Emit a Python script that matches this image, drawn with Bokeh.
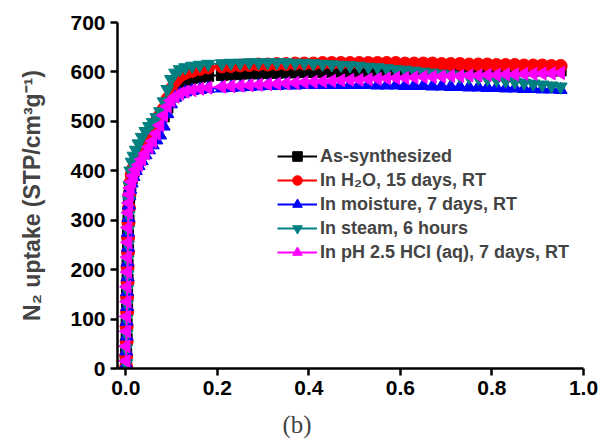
import numpy as np
from bokeh.plotting import figure
from bokeh.models import (Range1d, FixedTicker, NumeralTickFormatter, Legend, LegendItem, Title,
                          ColumnDataSource)
from bokeh.embed import file_html
from bokeh.resources import INLINE

# relative pressure P/P0 (shared by all isotherms)
pressure = [0.001, 0.001, 0.002, 0.002, 0.003, 0.003, 0.004, 0.004, 0.005, 0.005, 0.006, 0.007, 0.008,
            0.010, 0.013, 0.017, 0.022, 0.028, 0.035, 0.043, 0.051, 0.059, 0.067, 0.075, 0.083, 0.091,
            0.099, 0.108, 0.118, 0.130, 0.145, 0.162, 0.180,
            0.21, 0.23, 0.25, 0.27, 0.29, 0.31, 0.33, 0.35, 0.37, 0.39, 0.41, 0.43, 0.45, 0.47, 0.49,
            0.51, 0.53, 0.55, 0.57, 0.59, 0.61, 0.63, 0.65, 0.67, 0.69, 0.71, 0.73, 0.75, 0.77, 0.79,
            0.81, 0.83, 0.85, 0.87, 0.89, 0.91, 0.93, 0.95]

as_synth = [5, 30, 60, 90, 120, 150, 180, 210, 240, 270, 300, 330, 350,
            370, 385, 398, 410, 422, 435, 448, 460, 472, 485, 497, 510, 528, 550, 568, 578, 584, 588, 590, 592,
            594, 595, 596, 597, 597, 598, 598, 599, 599, 600, 600, 600, 601, 601, 601, 602, 602, 602, 602,
            603, 603, 603, 603, 603, 604, 604, 604, 604, 604, 604, 604, 604, 603, 603, 603, 603, 603, 603]
in_h2o = [3, 25, 55, 85, 115, 145, 175, 205, 235, 265, 295, 325, 350,
          375, 392, 405, 418, 432, 446, 460, 474, 488, 500, 512, 525, 545, 565, 582, 592, 598, 602, 606, 609,
          611, 612, 613, 614, 615, 615, 616, 616, 617, 617, 617, 618, 618, 618, 618, 618, 618, 618, 618,
          618, 617, 617, 617, 617, 616, 616, 616, 615, 615, 615, 614, 614, 614, 613, 613, 613, 612, 612]
in_moist = [8, 35, 65, 95, 125, 155, 185, 215, 245, 275, 305, 330, 350,
            362, 375, 388, 400, 410, 420, 432, 442, 452, 462, 472, 490, 515, 535, 548, 555, 559, 562, 564, 566,
            567, 568, 569, 570, 571, 572, 572, 573, 573, 574, 574, 574, 574, 574, 574, 574, 574, 573, 573,
            573, 572, 572, 572, 571, 571, 570, 570, 569, 569, 568, 568, 567, 567, 566, 566, 565, 565, 564]
in_steam = [10, 40, 70, 100, 130, 160, 190, 220, 250, 280, 310, 340, 370,
            400, 418, 430, 442, 455, 468, 480, 490, 498, 508, 520, 540, 565, 585, 598, 605, 609, 612, 614, 616,
            617, 618, 618, 619, 619, 619, 619, 619, 618, 618, 617, 616, 615, 614, 613, 612, 610, 609, 607,
            605, 604, 602, 600, 598, 596, 594, 592, 590, 588, 586, 584, 582, 580, 578, 576, 574, 572, 570]
in_hcl = [15, 45, 75, 105, 135, 165, 195, 225, 255, 285, 315, 335, 352,
          365, 378, 390, 402, 412, 423, 435, 448, 460, 475, 492, 512, 530, 542, 550, 556, 560, 563, 566, 568,
          570, 571, 572, 573, 574, 575, 576, 577, 578, 579, 580, 581, 582, 583, 584, 584, 585, 586, 587,
          588, 588, 589, 590, 590, 591, 592, 592, 593, 593, 594, 594, 595, 595, 596, 596, 597, 597, 598]

labels = ["As-synthesized", "In H\u2082O, 15 days, RT", "In moisture, 7 days, RT",
          "In steam, 6 hours", "In pH 2.5 HCl (aq), 7 days, RT"]
x_ticks = [0.0, 0.2, 0.4, 0.6, 0.8, 1.0]
y_ticks = [0, 100, 200, 300, 400, 500, 600, 700]

FONT = "Liberation Sans"

p = figure(width=601, height=448, output_backend="svg", toolbar_location=None,
           x_range=Range1d(-0.018, 1.0), y_range=Range1d(0, 700),
           min_border_left=117, min_border_right=18, min_border_top=22, min_border_bottom=20)
p.outline_line_color = None
p.grid.visible = False
p.background_fill_color = "white"
p.border_fill_color = "white"

for ax in (p.xaxis[0], p.yaxis[0]):
    ax.axis_line_width = 2.5
    ax.axis_line_color = "black"
    ax.major_tick_line_width = 2.5
    ax.major_tick_out = 7
    ax.major_tick_in = 0
    ax.minor_tick_line_color = None
    ax.major_label_text_font = FONT
    ax.major_label_text_font_style = "bold"
    ax.major_label_text_font_size = "21px"
    ax.major_label_text_color = "black"
    ax.major_label_standoff = 5

p.xaxis.ticker = FixedTicker(ticks=x_ticks)
p.xaxis.formatter = NumeralTickFormatter(format="0.0")
p.yaxis.ticker = FixedTicker(ticks=y_ticks)
p.yaxis.axis_label = "N\u2082 uptake (STP/cm\u00b3g\u207b\u00b9)"
p.yaxis.axis_label_text_font = FONT
p.yaxis.axis_label_text_font_style = "bold"
p.yaxis.axis_label_text_font_size = "23px"
p.yaxis.axis_label_standoff = 22

series = [
    (as_synth, "black", "square", 11, 0.0),
    (in_h2o, "red", "circle", 13, 0.0),
    (in_moist, "blue", "triangle", 13, 0.0),
    (in_steam, "#008080", "inverted_triangle", 13, 0.0),
    (in_hcl, "#FF00FF", "triangle", 13, np.pi / 2),
]

items = []
for (ys, color, marker, size, ang), lab in zip(series, labels):
    src = ColumnDataSource(dict(x=pressure, y=ys, ang=[ang] * len(pressure)))
    ln = p.line("x", "y", source=src, line_color=color, line_width=2)
    sc = p.scatter("x", "y", source=src, marker=marker, size=size, angle="ang", angle_units="rad",
                   fill_color=color, line_color=color)
    items.append(LegendItem(label=lab, renderers=[ln, sc], index=0))

legend = Legend(items=items, location=(160, 104), orientation="vertical")
legend.border_line_color = None
legend.background_fill_alpha = 0
legend.padding = 0
legend.margin = 0
legend.spacing = 0
legend.glyph_width = 40
legend.glyph_height = 24
legend.label_height = 24
legend.label_standoff = 3
legend.label_text_font = FONT
legend.label_text_font_style = "bold"
legend.label_text_font_size = "18px"
p.add_layout(legend, "center")

cap = Title(text="(b)", align="left", offset=165, text_font="Liberation Serif",
            text_font_size="25px", text_font_style="normal", standoff=22)
p.add_layout(cap, "below")

open("out.html", "w").write(file_html(p, INLINE))
